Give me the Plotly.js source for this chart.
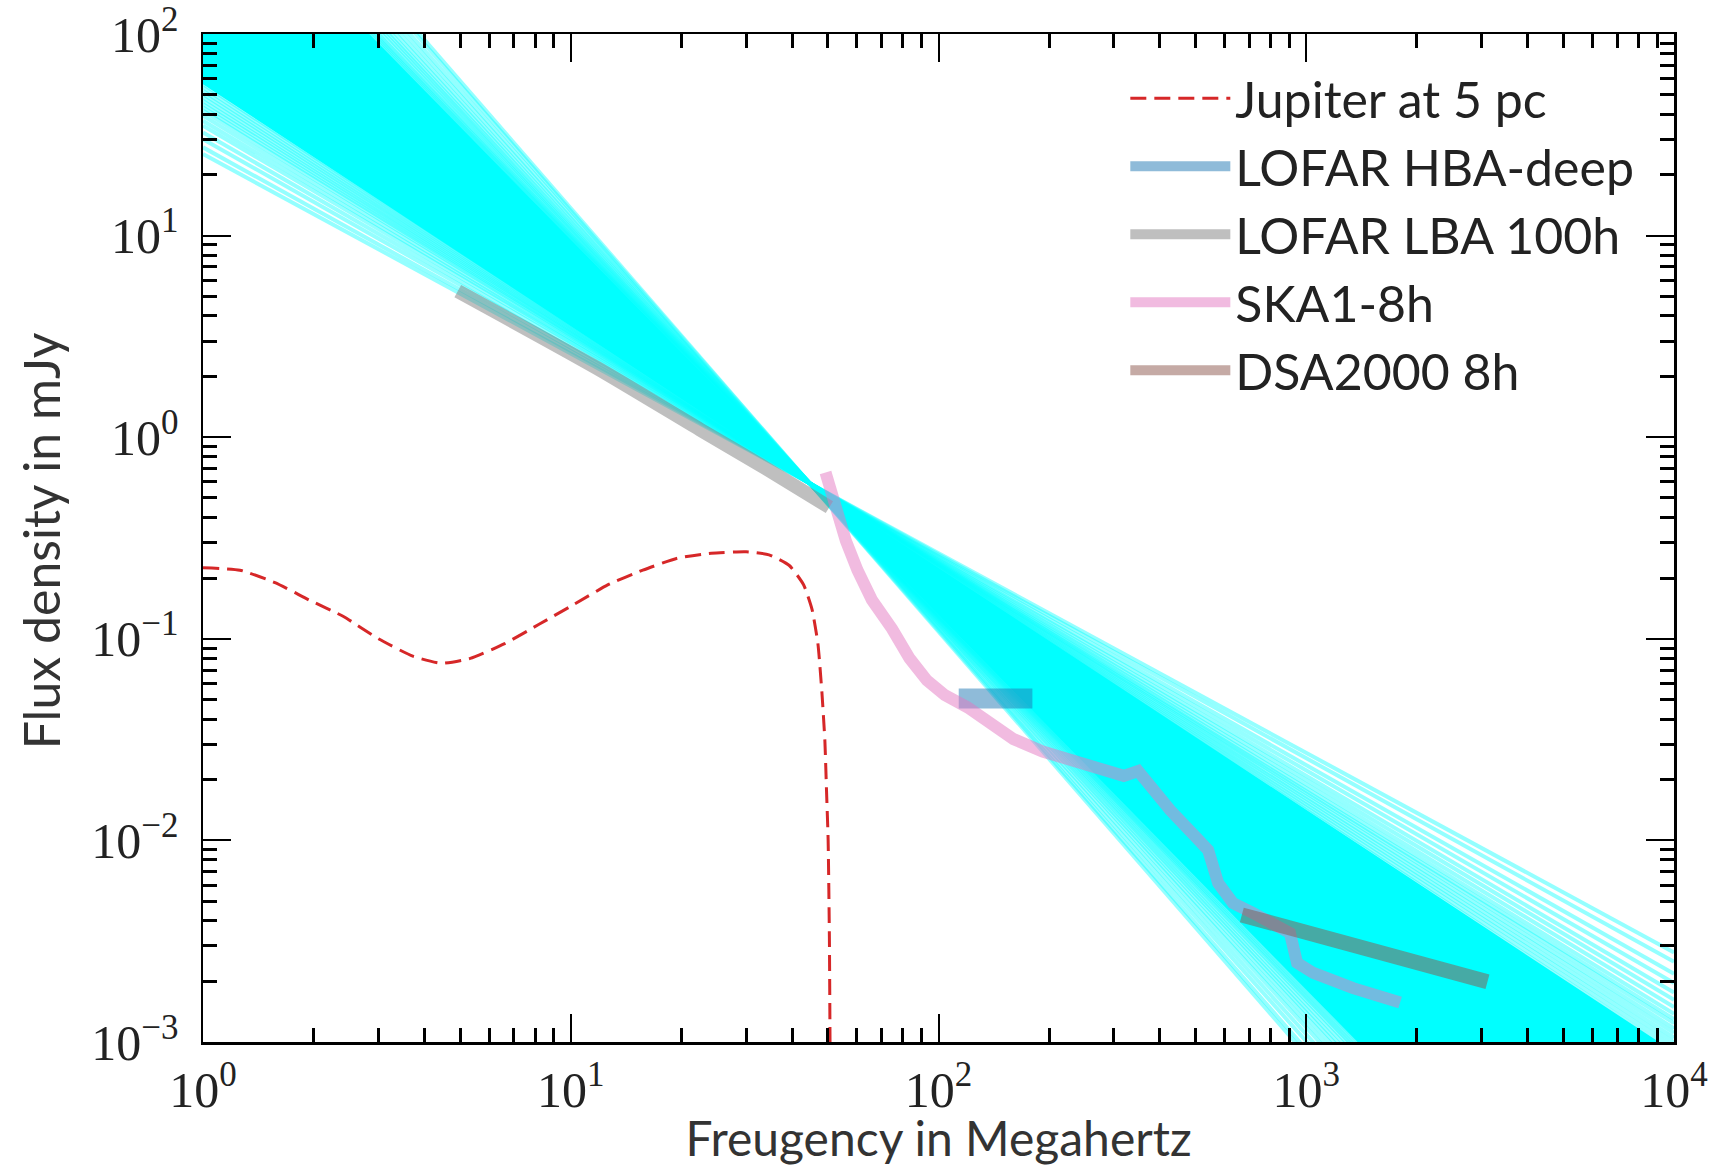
<!DOCTYPE html>
<html>
<head>
<meta charset="utf-8">
<script src="https://cdn.plot.ly/plotly-3.0.1.min.js"></script>
<style>
html,body{margin:0;padding:0;background:#ffffff;}
#chart{width:1709px;height:1166px;}
</style>
</head>
<body>
<div id="chart"></div>
<script>
// ---------------- data (frequency in MHz, flux density in mJy) ----------------
// Fan of model spectra: each line given by its flux at 1 MHz and at 10^4 MHz
const fanFreqEnds = [1, 10000];
const fanShallowLeft  = [25.4, 27.4, 30.1, 32.5, 35.1, 37.1, 39.3, 41.6, 43.2, 44.9, 46.6, 48.4, 50.3, 52.2, 54.3, 56.4, 58.6];
const fanShallowRight = [2.78e-3, 2.50e-3, 2.18e-3, 1.96e-3, 1.76e-3, 1.62e-3, 1.49e-3, 1.38e-3, 1.30e-3, 1.24e-3, 1.17e-3, 1.11e-3, 1.05e-3, 9.95e-4, 9.43e-4, 8.93e-4, 8.46e-4];
const fanSteepLeft    = [666, 692, 719, 746, 775, 805, 853, 903, 956, 1012, 1091, 1178, 1295, 1424, 1596, 1722];
const fanSteepRight   = [2.65e-5, 2.51e-5, 2.38e-5, 2.25e-5, 2.14e-5, 2.02e-5, 1.87e-5, 1.72e-5, 1.59e-5, 1.46e-5, 1.31e-5, 1.18e-5, 1.03e-5, 8.98e-6, 7.64e-6, 6.85e-6];
// edges of the densely packed (solid) part of the fan
const fanCoreShallow = [56.4, 8.93e-4];
const fanCoreSteep   = [692, 2.51e-5];

const jupiterFreq = [1, 1.26, 1.57, 1.94, 2.41, 3.0, 3.72, 4.45, 5.33, 6.61, 8.2, 10.2, 12.6, 15.7, 19.5, 24.1, 30, 34.6, 39.3, 43, 45.3, 47, 48.2, 49.1, 49.6, 50.1, 50.5, 50.7, 50.8];
const jupiterFlux = [0.225, 0.219, 0.19, 0.156, 0.129, 0.1, 0.082, 0.0756, 0.080, 0.0946, 0.118, 0.148, 0.185, 0.219, 0.251, 0.266, 0.27, 0.261, 0.231, 0.185, 0.14, 0.0946, 0.054, 0.031, 0.0177, 0.0101, 0.0033, 0.001, 0.0004];

const hbaFreq = [113.5, 180];
const hbaFlux = [0.0506, 0.0506];

const lbaFreq = [4.93, 11.8, 22.5, 34, 50.5];
const lbaFlux = [5.3, 2.2, 1.09, 0.70, 0.45];

const skaFreq = [49.3, 52.1, 56, 60.2, 65.9, 74.8, 83.4, 93, 104, 120, 139, 160, 192, 230, 276, 319, 349, 383, 427, 493, 541, 576, 632, 717, 903, 944, 1045, 1341, 1800];
const skaFlux = [0.668, 0.452, 0.306, 0.219, 0.156, 0.112, 0.080, 0.0622, 0.0526, 0.0457, 0.0376, 0.0318, 0.0276, 0.0247, 0.0221, 0.0209, 0.0221, 0.0177, 0.0141, 0.0107, 0.00896, 0.00615, 0.00489, 0.00436, 0.00347, 0.00247, 0.0022, 0.00185, 0.00157];

const dsaFreq = [668, 960, 3110];
const dsaFlux = [0.00427, 0.0036, 0.00199];

const seriesNames = ['Jupiter at 5 pc', 'LOFAR HBA-deep', 'LOFAR LBA 100h', 'SKA1-8h', 'DSA2000 8h'];

const xTickVals = [1, 10, 100, 1000, 10000];
const xTickText = ['10<sup>0</sup>', '10<sup>1</sup>', '10<sup>2</sup>', '10<sup>3</sup>', '10<sup>4</sup>'];
const yTickVals = [0.001, 0.01, 0.1, 1, 10, 100];
const yTickText = ['10<sup>−3</sup>', '10<sup>−2</sup>', '10<sup>−1</sup>', '10<sup>0</sup>', '10<sup>1</sup>', '10<sup>2</sup>'];

// ---------------- build ----------------
function minorTicks(decades) {
  const out = [];
  decades.forEach(d => { for (let m = 2; m <= 9; m++) out.push(d * m); });
  return out;
}
const minorX = minorTicks([1, 10, 100, 1000]);
const minorY = minorTicks([0.001, 0.01, 0.1, 1, 10]);

const traces = [];
const fanLine = {color: 'rgba(0,255,255,0.42)', width: 4};

// solid core of the fan (fill between its two edge lines)
traces.push({x: fanFreqEnds, y: fanCoreShallow, mode: 'lines', line: {color: 'rgba(0,255,255,0)', width: 0}, showlegend: false, hoverinfo: 'skip'});
traces.push({x: fanFreqEnds, y: fanCoreSteep, mode: 'lines', line: {color: 'rgba(0,255,255,0)', width: 0}, fill: 'tonexty', fillcolor: '#00ffff', showlegend: false, hoverinfo: 'skip'});
fanShallowLeft.forEach((v, i) => {
  traces.push({x: fanFreqEnds, y: [v, fanShallowRight[i]], mode: 'lines', line: fanLine, showlegend: false, hoverinfo: 'skip'});
});
fanSteepLeft.forEach((v, i) => {
  traces.push({x: fanFreqEnds, y: [v, fanSteepRight[i]], mode: 'lines', line: fanLine, showlegend: false, hoverinfo: 'skip'});
});

traces.push({x: jupiterFreq, y: jupiterFlux, mode: 'lines', name: seriesNames[0],
  line: {color: '#d62728', width: 3, dash: '16px,8px', shape: 'spline', smoothing: 0.5}});
traces.push({x: hbaFreq, y: hbaFlux, mode: 'lines', name: seriesNames[1],
  line: {color: 'rgba(31,119,180,0.5)', width: 20}});
traces.push({x: lbaFreq, y: lbaFlux, mode: 'lines', name: seriesNames[2],
  line: {color: 'rgba(127,127,127,0.5)', width: 14, shape: 'spline', smoothing: 0.6}});
traces.push({x: skaFreq, y: skaFlux, mode: 'lines', name: seriesNames[3],
  line: {color: 'rgba(227,119,194,0.5)', width: 12}});
traces.push({x: dsaFreq, y: dsaFlux, mode: 'lines', name: seriesNames[4],
  line: {color: 'rgba(140,86,75,0.5)', width: 15}});

const axisCommon = {
  type: 'log', tickmode: 'array', ticks: 'inside', ticklen: 28, tickwidth: 2, tickcolor: '#000',
  showline: true, linecolor: '#000', linewidth: 2.5, mirror: 'allticks',
  showgrid: false, zeroline: false, ticklabeloverflow: 'allow',
  tickfont: {family: 'Liberation Serif', size: 50, color: '#222'}
};

const layout = {
  width: 1709, height: 1166,
  margin: {l: 203, r: 35, t: 34, b: 124},
  paper_bgcolor: '#ffffff', plot_bgcolor: '#ffffff',
  showlegend: true,
  legend: {x: 0.627, xanchor: 'left', y: 0.975, yanchor: 'top', bgcolor: 'rgba(0,0,0,0)', traceorder: 'normal',
    font: {family: 'Lato', size: 50, color: '#222'}, itemwidth: 100, tracegroupgap: 0},
  xaxis: Object.assign({}, axisCommon, {
    range: [0, 4], tickvals: xTickVals, ticktext: xTickText, ticklabelstandoff: 2,
    minor: {tickmode: 'array', tickvals: minorX, ticks: 'inside', ticklen: 14, tickwidth: 3, tickcolor: '#000', showgrid: false},
    title: {text: 'Freugency in Megahertz', font: {family: 'Lato', size: 48, color: '#333'}, standoff: 24}
  }),
  yaxis: Object.assign({}, axisCommon, {
    range: [-3, 2], tickvals: yTickVals, ticktext: yTickText, ticklabelstandoff: 12,
    minor: {tickmode: 'array', tickvals: minorY, ticks: 'inside', ticklen: 14, tickwidth: 3, tickcolor: '#000', showgrid: false}
  }),
  annotations: [{
    text: 'Flux density in mJy', xref: 'paper', yref: 'paper', x: -0.110, y: 0.497,
    xanchor: 'center', yanchor: 'middle', textangle: -90, showarrow: false,
    font: {family: 'Lato', size: 50, color: '#333'}
  }]
};

Plotly.newPlot('chart', traces, layout, {displayModeBar: false, staticPlot: true});
</script>
</body>
</html>
